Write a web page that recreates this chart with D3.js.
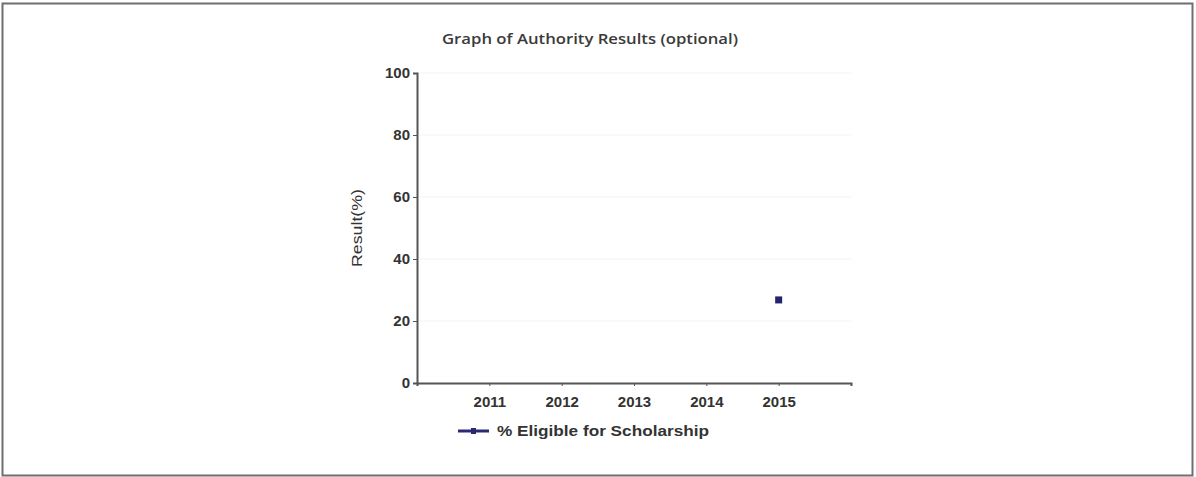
<!DOCTYPE html>
<html>
<head>
<meta charset="utf-8">
<script src="https://cdn.jsdelivr.net/npm/d3@7/dist/d3.min.js"></script>
<style>
  body { margin: 0; background: #fff; }
  .axis path, .axis line { stroke: #555; }
  .axis text { fill: #333; font-family: Arial, "Liberation Sans", sans-serif; font-size: 15px; font-weight: bold; }
</style>
</head>
<body>
<div id="chart"></div>
<script>
var w = 1196;
var h = 477;

// data
var years = [2011, 2012, 2013, 2014, 2015];
var eligible = [null, null, null, null, 26.8]; // % Eligible for Scholarship
var yTicks = [0, 20, 40, 60, 80, 100];
var seriesName = "% Eligible for Scholarship";
var title = "Graph of Authority Results (optional)";

var svg = d3.select("#chart")
    .append("svg")
    .attr("width", w)
    .attr("height", h);

// outer frame
svg.append("rect")
    .attr("x", 2.5).attr("y", 3.5)
    .attr("width", 1190).attr("height", 472)
    .attr("fill", "none")
    .attr("stroke", "#6e6e6e")
    .attr("stroke-width", 2);

var margin = {top: 73, left: 417},
    width = 434,
    height = 310;

var x = d3.scaleLinear().domain([2010, 2016]).range([0, width]),
    y = d3.scaleLinear().domain([0, 100]).range([height, 0]);

var g = svg.append("g")
    .attr("transform", "translate(" + margin.left + "," + margin.top + ")");

// faint grid lines
g.selectAll(".grid")
  .data(yTicks.slice(1))
  .enter().append("line")
    .attr("x1", 2).attr("x2", width)
    .attr("y1", function(d) { return y(d); })
    .attr("y2", function(d) { return y(d); })
    .attr("stroke", "#f3f3f3");

// title
svg.append("text")
    .attr("x", 590).attr("y", 44)
    .attr("text-anchor", "middle")
    .attr("fill", "#3a3a3a")
    .attr("textLength", 296)
    .attr("lengthAdjust", "spacingAndGlyphs")
    .style("font-family", "'Open Sans', Arial, sans-serif")
    .style("font-size", "15px")
    .style("font-weight", "600")
    .text(title);

// x axis
g.append("g")
    .attr("class", "axis axis--x")
    .attr("transform", "translate(0," + height + ")")
    .call(d3.axisBottom(x).tickValues(years).tickFormat(d3.format("d")).tickSize(3).tickPadding(10))
    .call(function(s) { s.select(".domain").attr("stroke-width", 2); });

// y axis
g.append("g")
    .attr("class", "axis axis--y")
    .call(d3.axisLeft(y).tickValues(yTicks).tickSize(4).tickPadding(3))
    .call(function(s) { s.select(".domain").attr("stroke-width", 2); });

// y label
svg.append("text")
    .attr("transform", "translate(362,228) rotate(-90)")
    .attr("text-anchor", "middle")
    .attr("fill", "#333")
    .attr("textLength", 78)
    .attr("lengthAdjust", "spacingAndGlyphs")
    .style("font-family", "Arial, 'Liberation Sans', sans-serif")
    .style("font-size", "15px")
    .text("Result(%)");

// series
var pts = years.map(function(d, i) { return {year: d, value: eligible[i]}; })
    .filter(function(d) { return d.value != null; });

var line = d3.line()
    .x(function(d) { return x(d.year); })
    .y(function(d) { return y(d.value); });

g.append("path")
    .datum(pts)
    .attr("fill", "none")
    .attr("stroke", "#23236e")
    .attr("stroke-width", 2)
    .attr("d", line);

g.selectAll(".dot")
  .data(pts)
  .enter().append("rect")
    .attr("class", "dot")
    .attr("x", function(d) { return x(d.year) - 3.5; })
    .attr("y", function(d) { return y(d.value) - 3.5; })
    .attr("width", 7).attr("height", 7)
    .attr("fill", "#23236e");

// legend
var lg = svg.append("g").attr("transform", "translate(458,431)");
lg.append("line")
    .attr("x1", 0).attr("x2", 31)
    .attr("stroke", "#2a2a72").attr("stroke-width", 3);
lg.append("rect")
    .attr("x", 13).attr("y", -3).attr("width", 5).attr("height", 6)
    .attr("fill", "#2a2a72");
lg.append("text")
    .attr("x", 39).attr("y", 5)
    .attr("fill", "#333")
    .attr("textLength", 212)
    .attr("lengthAdjust", "spacingAndGlyphs")
    .style("font-family", "Arial, 'Liberation Sans', sans-serif")
    .style("font-size", "15px")
    .style("font-weight", "bold")
    .text(seriesName);
</script>
</body>
</html>
